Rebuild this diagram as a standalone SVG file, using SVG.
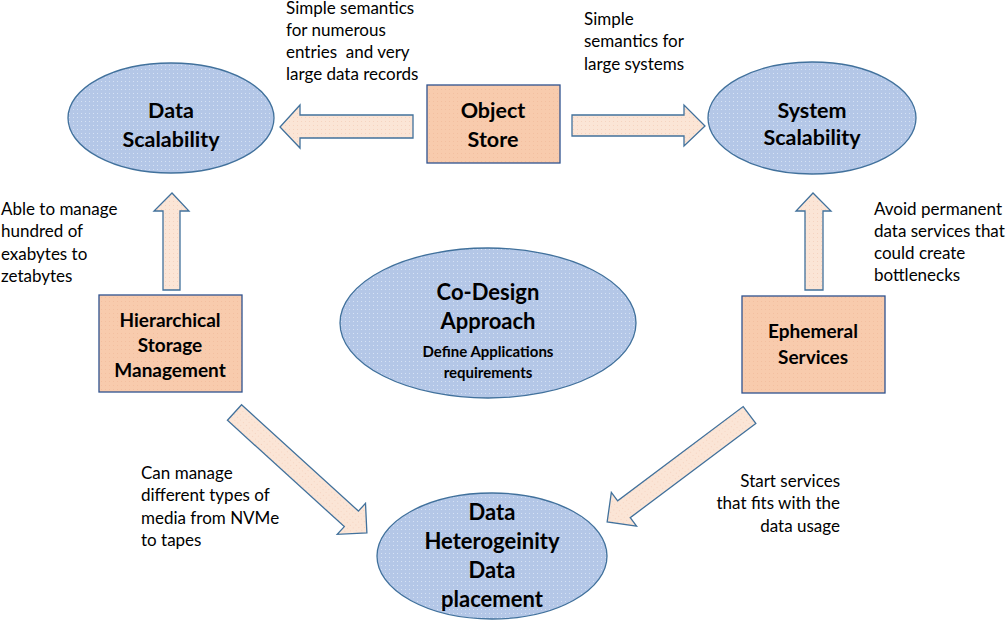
<svg xmlns="http://www.w3.org/2000/svg" width="1008" height="620" viewBox="0 0 1008 620">
<style>
  .ell { fill: url(#dotBlue); stroke: #41719C; stroke-width: 1.3; }
  .box { fill: url(#dotPeach); stroke: #2F528F; stroke-width: 1.3; }
  .arr { fill: url(#dotLight); stroke: #41719C; stroke-width: 1.3; stroke-linejoin: miter; }
  .t { font-family: Lato, "Open Sans", "Liberation Sans", sans-serif; font-size: 17px; fill: #000; }
  .b { font-family: Lato, "Open Sans", "Liberation Sans", sans-serif; font-weight: bold; font-size: 19px; fill: #000; text-anchor: middle; }
  .bl { font-size: 21.5px; }
  .bx { font-size: 22px; }
  .s { font-family: Lato, "Open Sans", "Liberation Sans", sans-serif; font-weight: bold; font-size: 15px; fill: #000; text-anchor: middle; }
</style>
<defs>
  <pattern id="dotBlue" width="4" height="4" patternUnits="userSpaceOnUse">
    <rect width="4" height="4" fill="#B4C7E7"/>
    <rect x="1" y="1" width="1" height="1" fill="#D6E2F4"/>
  </pattern>
  <pattern id="dotPeach" width="4" height="4" patternUnits="userSpaceOnUse">
    <rect width="4" height="4" fill="#F8CBAD"/>
    <rect x="1" y="1" width="1" height="1" fill="#F3BFA0"/>
  </pattern>
  <pattern id="dotLight" width="4" height="4" patternUnits="userSpaceOnUse">
    <rect width="4" height="4" fill="#FBE5D6"/>
    <rect x="1" y="1" width="1" height="1" fill="#F5D3C0"/>
  </pattern>
</defs>
<rect width="1008" height="620" fill="#FFFFFF"/>

<g id="connectors">
  <!-- Object Store -> Data Scalability -->
  <polygon class="arr" points="413,115 300,115 300,105 280,127 300,148 300,138 413,138"/>
  <!-- Object Store -> System Scalability -->
  <polygon class="arr" points="572,115 684,115 684,105 705,126 684,146 684,136 572,136"/>
  <!-- HSM -> Data Scalability -->
  <polygon class="arr" points="163,290 163,211 154,211 172,193 189,211 180,211 180,290"/>
  <!-- Ephemeral -> System Scalability -->
  <polygon class="arr" points="805,290 805,211 796,211 813,193 831,211 823,211 823,290"/>
  <!-- HSM -> Data Heterogeneity -->
  <polygon class="arr" transform="translate(234.5,412.5) rotate(42.3)" points="0,-10.5 158,-10.5 158,-21 179,0 158,21 158,10.5 0,10.5"/>
  <!-- Ephemeral -> Data Heterogeneity -->
  <polygon class="arr" transform="translate(749.5,415) rotate(143.1)" points="0,-10.5 157,-10.5 157,-21 178,0 157,21 157,10.5 0,10.5"/>
</g>

<g id="data-scalability">
  <ellipse class="ell" cx="171" cy="118" rx="103" ry="55"/>
  <text class="b bl" x="171" y="118">Data</text>
  <text class="b bl" x="171" y="147">Scalability</text>
</g>

<g id="object-store">
  <rect class="box" x="427" y="85" width="133" height="78"/>
  <text class="b bl" x="493" y="118">Object</text>
  <text class="b bl" x="493" y="147">Store</text>
</g>

<g id="system-scalability">
  <ellipse class="ell" cx="812" cy="118" rx="104" ry="56"/>
  <text class="b bl" x="812" y="118">System</text>
  <text class="b bl" x="812" y="145">Scalability</text>
</g>

<g id="hsm">
  <rect class="box" x="99" y="295" width="143" height="97"/>
  <text class="b" x="170" y="327">Hierarchical</text>
  <text class="b" x="170" y="352">Storage</text>
  <text class="b" x="170" y="377">Management</text>
</g>

<g id="co-design">
  <ellipse class="ell" cx="488" cy="323" rx="148" ry="75"/>
  <text class="b bx" x="488" y="300">Co-Design</text>
  <text class="b bx" x="488" y="329">Approach</text>
  <text class="s" x="488" y="357">Define Applications</text>
  <text class="s" x="488" y="378">requirements</text>
</g>

<g id="ephemeral">
  <rect class="box" x="742" y="296" width="143" height="97"/>
  <text class="b" x="813" y="338">Ephemeral</text>
  <text class="b" x="813" y="364">Services</text>
</g>

<g id="data-heterogeneity">
  <ellipse class="ell" cx="492" cy="556" rx="115" ry="63"/>
  <text class="b bx" x="492" y="520">Data</text>
  <text class="b bx" x="492" y="549">Heterogeinity</text>
  <text class="b bx" x="492" y="578">Data</text>
  <text class="b bx" x="492" y="607">placement</text>
</g>

<g id="labels">
  <text class="t" x="286" y="14">Simple semantics</text>
  <text class="t" x="286" y="36">for numerous</text>
  <text class="t" x="286" y="58" xml:space="preserve">entries  and very</text>
  <text class="t" x="286" y="80">large data records</text>

  <text class="t" x="584" y="25">Simple</text>
  <text class="t" x="584" y="47">semantics for</text>
  <text class="t" x="584" y="70">large systems</text>

  <text class="t" x="1" y="215">Able to manage</text>
  <text class="t" x="1" y="237">hundred of</text>
  <text class="t" x="1" y="260">exabytes to</text>
  <text class="t" x="1" y="282">zetabytes</text>

  <text class="t" x="874" y="215">Avoid permanent</text>
  <text class="t" x="874" y="237">data services that</text>
  <text class="t" x="874" y="259">could create</text>
  <text class="t" x="874" y="281">bottlenecks</text>

  <text class="t" x="141" y="479">Can manage</text>
  <text class="t" x="141" y="501">different types of</text>
  <text class="t" x="141" y="524">media from NVMe</text>
  <text class="t" x="141" y="546">to tapes</text>

  <text class="t" x="840" y="487" text-anchor="end">Start services</text>
  <text class="t" x="840" y="509" text-anchor="end">that fits with the</text>
  <text class="t" x="840" y="532" text-anchor="end">data usage</text>
</g>
</svg>
